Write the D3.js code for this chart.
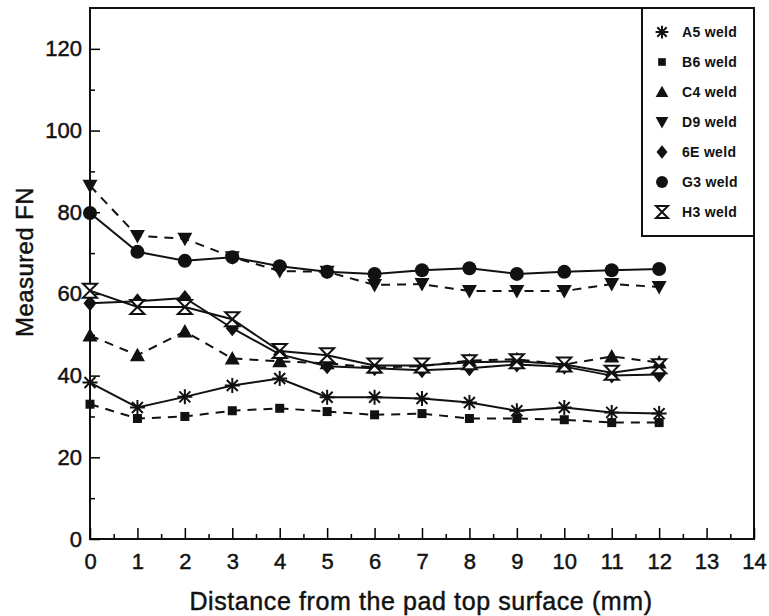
<!DOCTYPE html>
<html lang="en">
<head>
<meta charset="UTF-8">
<title>Measured FN</title>
<style>
  body { margin: 0; background: #fff; }
  svg { font-family: "Liberation Sans", Arial, sans-serif; }
  .heavy { stroke: #111; stroke-width: 0.45px; paint-order: stroke; }
</style>
</head>
<body>
<div id="chart"></div>
<script src="https://d3js.org/d3.v7.min.js"></script>
<script>
// data
var distance = [0, 1, 2, 3, 4, 5, 6, 7, 8, 9, 10, 11, 12];
var a5 = [38.3, 32.2, 34.8, 37.6, 39.3, 34.7, 34.7, 34.4, 33.4, 31.4, 32.2, 31.0, 30.7];
var b6 = [33.0, 29.5, 30.0, 31.4, 32.0, 31.2, 30.4, 30.7, 29.5, 29.5, 29.2, 28.5, 28.5];
var c4 = [49.8, 45.0, 50.8, 44.2, 43.5, 43.0, 42.0, 42.3, 43.7, 44.0, 42.7, 44.7, 43.2];
var d9 = [86.5, 74.2, 73.5, 69.0, 65.6, 65.4, 62.2, 62.4, 60.7, 60.7, 60.7, 62.4, 61.7];
var e6 = [57.7, 58.2, 59.0, 51.6, 45.2, 42.3, 41.8, 41.3, 41.8, 42.7, 42.2, 40.0, 40.3];
var g3 = [79.8, 70.3, 68.1, 69.0, 66.8, 65.4, 64.9, 65.8, 66.3, 64.9, 65.4, 65.8, 66.1];
var h3 = [60.8, 56.8, 56.8, 53.8, 46.0, 45.0, 42.5, 42.5, 43.3, 43.5, 42.7, 40.7, 42.3];
var seriesNames = ["A5 weld", "B6 weld", "C4 weld", "D9 weld", "6E weld", "G3 weld", "H3 weld"];
var xTicks = d3.range(0, 15);
var yTicks = [0, 20, 40, 60, 80, 100, 120];

var series = [
  { name: seriesNames[0], values: a5, dash: null, mark: "asterisk" },
  { name: seriesNames[1], values: b6, dash: "9,7", mark: "square" },
  { name: seriesNames[2], values: c4, dash: "9,7", mark: "triUp" },
  { name: seriesNames[3], values: d9, dash: "9,7", mark: "triDown" },
  { name: seriesNames[4], values: e6, dash: null, mark: "diamond" },
  { name: seriesNames[5], values: g3, dash: null, mark: "circle" },
  { name: seriesNames[6], values: h3, dash: null, mark: "hourglass" }
];

var W = 769, H = 616;
var margin = { top: 8, right: 15, bottom: 77, left: 90 };
var width = W - margin.left - margin.right,
    height = H - margin.top - margin.bottom;

var svg = d3.select("#chart").append("svg")
  .attr("width", W).attr("height", H);
var g = svg.append("g")
  .attr("transform", "translate(" + margin.left + "," + margin.top + ")");

var x = d3.scaleLinear().domain([0, 14]).range([0, width]);
var y = d3.scaleLinear().domain([0, 130]).range([height, 0]);

// frame
g.append("rect").attr("width", width).attr("height", height)
  .attr("fill", "none").attr("stroke", "#111").attr("stroke-width", 2);

// ticks pointing inward
g.append("g").attr("transform", "translate(0," + height + ")")
  .call(d3.axisBottom(x).tickValues(d3.range(0, 14.01, 0.5)).tickSize(-5).tickFormat(""))
  .call(function (s) { s.select(".domain").remove(); })
  .selectAll("line").attr("stroke-width", 1.5)
  .attr("y2", function (d) { return d % 1 === 0 ? -11 : -5; });
g.append("g").attr("transform", "translate(0," + height + ")")
  .call(d3.axisBottom(x).tickValues(xTicks).tickSize(0).tickPadding(14))
  .call(function (s) { s.select(".domain").remove(); })
  .selectAll("text").attr("class", "heavy").attr("font-size", 22).attr("fill", "#111")
  .attr("font-family", "Liberation Sans, Arial, sans-serif");

g.append("g")
  .call(d3.axisRight(y).tickValues(d3.range(0, 130, 10)).tickSize(10).tickFormat(""))
  .call(function (s) { s.select(".domain").remove(); })
  .selectAll("line").attr("stroke-width", 1.5)
  .attr("x2", function (d) { return d % 20 === 0 ? 10 : 5; });
g.append("g")
  .call(d3.axisLeft(y).tickValues(yTicks).tickSize(0).tickPadding(8))
  .call(function (s) { s.select(".domain").remove(); })
  .selectAll("text").attr("class", "heavy").attr("font-size", 22).attr("fill", "#111")
  .attr("font-family", "Liberation Sans, Arial, sans-serif");

// axis titles
svg.append("text").attr("class", "heavy")
  .attr("x", 421).attr("y", 610)
  .attr("text-anchor", "middle").attr("font-size", 25).attr("letter-spacing", 0.6)
  .attr("fill", "#111")
  .text("Distance from the pad top surface (mm)");
svg.append("text").attr("class", "heavy")
  .attr("transform", "translate(33,262) rotate(-90)")
  .attr("text-anchor", "middle").attr("font-size", 24).attr("letter-spacing", 0.4)
  .attr("fill", "#111")
  .text("Measured FN");

// marker drawing
function drawMark(sel, type, s) {
  var k = s || 1;
  if (type === "circle") {
    sel.append("circle").attr("r", 7 * k).attr("fill", "#111");
  } else if (type === "square") {
    sel.append("rect").attr("x", -4.5 * k).attr("y", -4.5 * k)
      .attr("width", 9 * k).attr("height", 9 * k).attr("fill", "#111");
  } else if (type === "triUp") {
    sel.append("path").attr("d", "M0," + (-7.5 * k) + "L" + (7.5 * k) + "," + (6 * k) + "L" + (-7.5 * k) + "," + (6 * k) + "Z")
      .attr("fill", "#111");
  } else if (type === "triDown") {
    sel.append("path").attr("d", "M0," + (7.5 * k) + "L" + (7.5 * k) + "," + (-6 * k) + "L" + (-7.5 * k) + "," + (-6 * k) + "Z")
      .attr("fill", "#111");
  } else if (type === "diamond") {
    sel.append("path").attr("d", "M0," + (-8 * k) + "L" + (6.5 * k) + ",0L0," + (8 * k) + "L" + (-6.5 * k) + ",0Z")
      .attr("fill", "#111");
  } else if (type === "asterisk") {
    var r = 7.5 * k, d2 = 5.5 * k;
    sel.append("path")
      .attr("d", "M0," + -r + "V" + r + "M" + -r + ",0H" + r +
        "M" + -d2 + "," + -d2 + "L" + d2 + "," + d2 + "M" + -d2 + "," + d2 + "L" + d2 + "," + -d2)
      .attr("stroke", "#111").attr("stroke-width", 2).attr("fill", "none");
  } else if (type === "hourglass") {
    var h = 7 * k;
    sel.append("path")
      .attr("d", "M" + -h + "," + -h + "H" + h + "L" + -h + "," + h + "H" + h + "Z")
      .attr("stroke", "#111").attr("stroke-width", 2).attr("fill", "#fff");
  }
}

var line = d3.line()
  .x(function (d, i) { return x(distance[i]); })
  .y(function (d) { return y(d); });

series.forEach(function (s) {
  g.append("path").datum(s.values)
    .attr("d", line).attr("fill", "none")
    .attr("stroke", "#111").attr("stroke-width", 2)
    .attr("stroke-dasharray", s.dash);
});
series.forEach(function (s) {
  g.selectAll(null).data(s.values).enter().append("g")
    .attr("transform", function (d, i) { return "translate(" + x(distance[i]) + "," + y(d) + ")"; })
    .each(function () { drawMark(d3.select(this), s.mark, 1); });
});

// legend
var lg = g.append("g").attr("transform", "translate(" + (width - 112) + ",0)");
lg.append("rect").attr("width", 112).attr("height", 228)
  .attr("fill", "#fff").attr("stroke", "#111").attr("stroke-width", 2);
series.forEach(function (s, i) {
  var row = lg.append("g").attr("transform", "translate(20," + (24 + i * 30) + ")");
  drawMark(row, s.mark, 0.85);
  row.append("text").attr("x", 20).attr("y", 5)
    .attr("font-size", 14).attr("font-weight", "bold").attr("letter-spacing", 0.3)
    .attr("fill", "#111")
    .text(s.name);
});
</script>
</body>
</html>
